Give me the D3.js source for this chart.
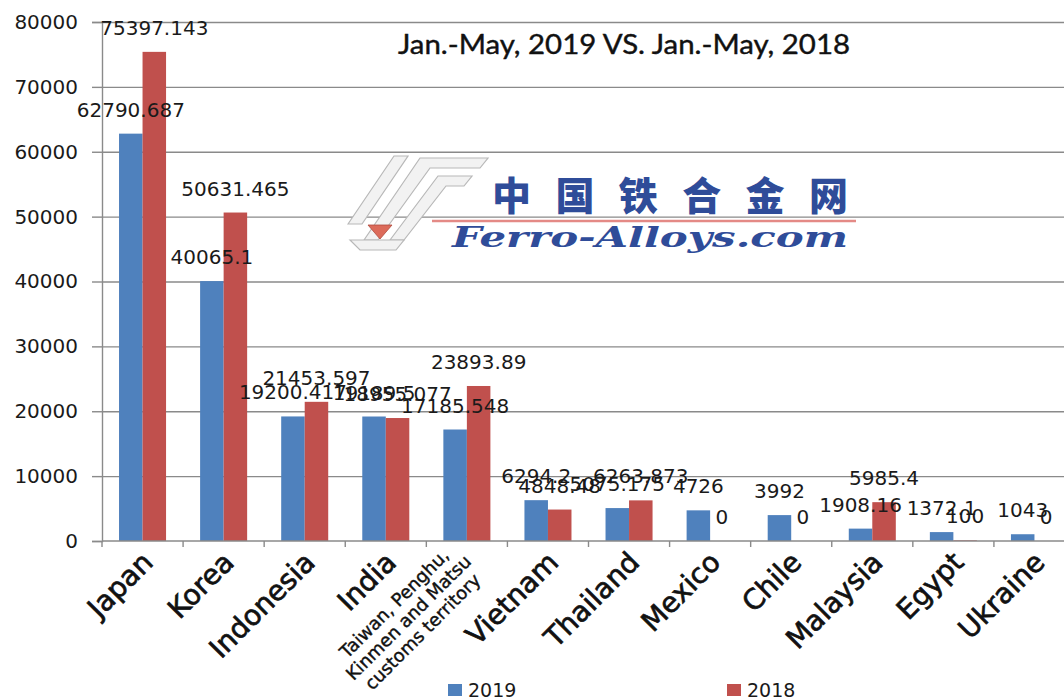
<!DOCTYPE html>
<html lang="en">
<head>
<title>Jan.-May 2019 vs 2018</title>
<meta charset="utf-8">
<script src="https://cdn.jsdelivr.net/npm/d3@7"></script>
<style type="text/css">
  body { margin: 0; background: #fff; }
  svg { display: block; }
  .num { font-family: 'DejaVu Sans', sans-serif; fill: #1a1a1a; }
  .cat { font-family: 'DejaVu Sans', sans-serif; fill: #111; stroke: #111; stroke-width: 0.7px; }
</style>
</head>
<body>
<div id="chart"></div>
<script>

/* Data */
/* ==== */

var categories = ['Japan', 'Korea', 'Indonesia', 'India', 'Taiwan', 'Vietnam',
                  'Thailand', 'Mexico', 'Chile', 'Malaysia', 'Egypt', 'Ukraine'];

// the long category name is broken into lines like in the original
var categoryLines = {
  'Taiwan': ['Taiwan, Penghu,', 'Kinmen and Matsu', 'customs territory']
};

var values2019 = [62790.687, 40065.1, 19200.417, 19189.5, 17185.548, 6294.2,
                  5075.175, 4726, 3992, 1908.16, 1372.1, 1043];
var values2018 = [75397.143, 50631.465, 21453.597, 18955.077, 23893.89, 4848.48,
                  6263.873, 0, 0, 5985.4, 100, 0];

var seriesNames = ['2019', '2018'];
var yTicks = [0, 10000, 20000, 30000, 40000, 50000, 60000, 70000, 80000];

var titleText = 'Jan.-May, 2019 VS. Jan.-May, 2018';


/* Set up */
/* ====== */

var width = 1064,
    height = 700;

var colors = { '2019': '#4f81bd', '2018': '#c0504d' };

var svg = d3.select('#chart').append('svg')
    .attr('width', width)
    .attr('height', height);

var x = d3.scaleBand()
    .domain(categories)
    .range([102, 1075])
    .paddingInner(0.42)
    .paddingOuter(0.21);

var xSeries = d3.scaleBand()
    .domain(seriesNames)
    .range([0, x.bandwidth()]);

var y = d3.scaleLinear()
    .domain([0, 80000])
    .range([541, 22]);

var rows = categories.map(function(c, i) {
  return { cat: c, values: [
    { key: '2019', value: values2019[i] },
    { key: '2018', value: values2018[i] }
  ]};
});


/* Grid and axes */
/* ============= */

svg.append('g')
    .attr('transform', 'translate(102,0)')
    .call(d3.axisLeft(y).tickValues(yTicks.slice(1)).tickSize(-(width - 102)).tickFormat(''))
    .call(function(g) { g.select('.domain').remove(); })
    .selectAll('line')
    .attr('stroke', '#8a8a8a')
    .attr('stroke-width', 1.4);

// watermark sits on top of the grid
var logo = svg.append('g').attr('class', 'logo');

var stripes = [
  'M348,224 L394,156 L408,156 L362,224 Z',
  'M364,240 L420,158 L488,158 L480,168 L430,168 L378,240 Z',
  'M390,240 L438,176 L472,176 L464,186 L446,186 L404,240 Z',
  'M350,240 L360,250 L396,250 L404,240 Z'
];
logo.selectAll('path.stripe')
  .data(stripes)
  .join('path')
    .attr('class', 'stripe')
    .attr('d', function(d) { return d; })
    .attr('fill', '#f2f2f2')
    .attr('stroke', '#b8b8b8')
    .attr('stroke-width', 1.2);

logo.append('path')
    .attr('d', 'M368,225 L392,225 L380,239 Z')
    .attr('fill', '#dc6b5a')
    .attr('stroke', '#b04a3c')
    .attr('stroke-width', 0.8);

logo.append('line')
    .attr('x1', 432).attr('x2', 856)
    .attr('y1', 221).attr('y2', 221)
    .attr('stroke', '#e48a86')
    .attr('stroke-width', 2.5);

logo.append('text')
    .attr('x', 492)
    .attr('y', 210)
    .attr('textLength', 356)
    .attr('lengthAdjust', 'spacing')
    .style('font-family', "'Noto Sans CJK SC', sans-serif")
    .style('font-weight', 900)
    .style('font-size', '39px')
    .attr('fill', '#2f4c99')
    .text('中国铁合金网');

logo.append('text')
    .attr('x', 452)
    .attr('y', 247)
    .attr('textLength', 396)
    .attr('lengthAdjust', 'spacingAndGlyphs')
    .style('font-family', "'DejaVu Serif', serif")
    .style('font-weight', 'bold')
    .style('font-style', 'italic')
    .style('font-size', '27px')
    .attr('fill', '#2f4c99')
    .text('Ferro-Alloys.com');

// y axis
var yAxis = svg.append('g')
    .attr('transform', 'translate(102,0)')
    .call(d3.axisLeft(y).tickValues(yTicks).tickSize(10).tickPadding(14).tickFormat(d3.format('d')));

yAxis.select('.domain').attr('stroke', '#8a8a8a').attr('stroke-width', 1.4);
yAxis.selectAll('line').attr('stroke', '#8a8a8a').attr('stroke-width', 1.4);
yAxis.selectAll('text')
    .attr('class', 'num')
    .style('font-size', '20px');


/* Bars */
/* ==== */

var groups = svg.append('g').selectAll('g')
  .data(rows)
  .join('g')
    .attr('transform', function(d) { return 'translate(' + x(d.cat) + ',0)'; });

groups.selectAll('rect')
  .data(function(d) { return d.values; })
  .join('rect')
    .attr('x', function(d) { return xSeries(d.key); })
    .attr('y', function(d) { return y(d.value); })
    .attr('width', xSeries.bandwidth())
    .attr('height', function(d) { return y(0) - y(d.value); })
    .attr('fill', function(d) { return colors[d.key]; });

// x axis line and tick marks between categories
var step = x.step();
var edges = categories.map(function(c) { return x(c) - (step - x.bandwidth()) / 2; });
edges.push(edges[edges.length - 1] + step);

svg.append('line')
    .attr('x1', 102).attr('x2', width)
    .attr('y1', y(0)).attr('y2', y(0))
    .attr('stroke', '#8a8a8a')
    .attr('stroke-width', 1.4);

svg.append('g').selectAll('line')
  .data(edges)
  .join('line')
    .attr('x1', function(d) { return d; })
    .attr('x2', function(d) { return d; })
    .attr('y1', y(0))
    .attr('y2', y(0) + 6)
    .attr('stroke', '#8a8a8a')
    .attr('stroke-width', 1.4);

// value labels
groups.selectAll('text.val')
  .data(function(d) { return d.values; })
  .join('text')
    .attr('class', 'val num')
    .attr('x', function(d) { return xSeries(d.key) + xSeries.bandwidth() / 2; })
    .attr('y', function(d) { return y(d.value) - 17; })
    .attr('text-anchor', 'middle')
    .style('font-size', '20px')
    .text(function(d) { return String(d.value); });


/* Category labels */
/* =============== */

var catLabels = svg.append('g').selectAll('g')
  .data(categories)
  .join('g')
    .attr('transform', function(c) {
      var cx = x(c) + x.bandwidth() / 2;
      return categoryLines[c]
        ? 'translate(' + (cx - 54) + ',622) rotate(-45)'
        : 'translate(' + (cx + 12) + ',564) rotate(-45)';
    });

catLabels.each(function(c) {
  var g = d3.select(this);
  var lines = categoryLines[c];
  if (lines) {
    g.selectAll('text')
      .data(lines)
      .join('text')
        .attr('class', 'cat')
        .attr('x', 0)
        .attr('y', function(d, i) { return (i - 1) * 20; })
        .attr('text-anchor', 'middle')
        .style('font-size', '18px')
        .style('stroke-width', '0.4px')
        .text(function(d) { return d; });
  } else {
    g.append('text')
        .attr('class', 'cat')
        .attr('text-anchor', 'end')
        .style('font-size', '28px')
        .text(c);
  }
});


/* Title and legend */
/* ================ */

svg.append('text')
    .attr('x', 398)
    .attr('y', 54)
    .attr('textLength', 452)
    .attr('lengthAdjust', 'spacingAndGlyphs')
    .style('font-family', "'Lato', sans-serif")
    .style('font-size', '27px')
    .style('stroke', '#111')
    .style('stroke-width', '0.4px')
    .attr('fill', '#111')
    .text(titleText);

var legendX = { '2019': 448, '2018': 727 };

var legend = svg.append('g').selectAll('g')
  .data(seriesNames)
  .join('g')
    .attr('transform', function(d) { return 'translate(' + legendX[d] + ',684)'; });

legend.append('rect')
    .attr('width', 14)
    .attr('height', 12)
    .attr('fill', function(d) { return colors[d]; });

legend.append('text')
    .attr('class', 'num')
    .attr('x', 20)
    .attr('y', 13)
    .style('font-size', '19px')
    .text(function(d) { return d; });

</script>
</body>
</html>
